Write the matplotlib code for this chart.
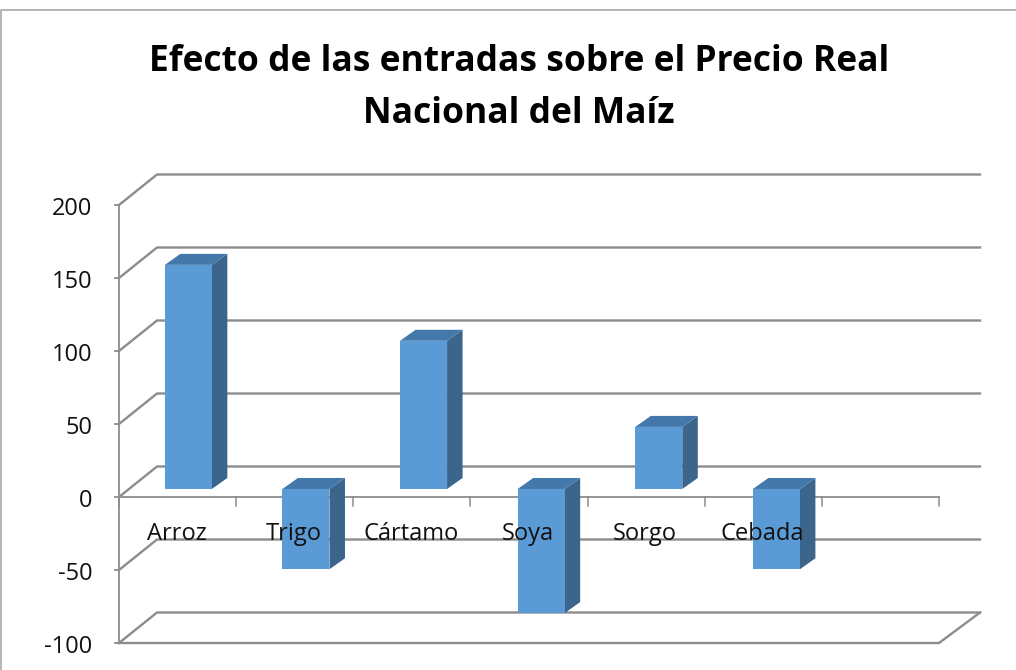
import matplotlib
matplotlib.use("Agg")
import matplotlib.pyplot as plt
from matplotlib.patches import Polygon, Rectangle

plt.rcParams['font.family'] = ['Open Sans', 'DejaVu Sans']

categories = ['Arroz', 'Trigo', 'Cártamo', 'Soya', 'Sorgo', 'Cebada']
values = [159, -55, 107, -85, 48, -55]
yticks = [-100, -50, 0, 50, 100, 150, 200]
title = 'Efecto de las entradas sobre el Precio Real\nNacional del Maíz'

W, H = 1016, 670
fig = plt.figure(figsize=(W / 100, H / 100), dpi=100)
fig.patch.set_facecolor('white')

# frame of the chart, cut by the picture edge at the bottom and right
fig.add_artist(plt.Line2D([0.5 / W, 0.5 / W, 1], [0, 1 - 10 / H, 1 - 10 / H],
                          color='#a8a8a8', lw=1.2))

# y=0 at 496px, y=-100 at 643px
ax = fig.add_axes([119 / W, (H - 643) / H, (939 - 119) / W, (643 - 205) / H])
ax.set_xlim(0, 7)
ax.set_ylim(-100, 200)
ax.axis('off')
ax.patch.set_alpha(0)

px_x = 7 / (939 - 119)
px_y = 300 / 438
dx = 38 * px_x    # depth offset of the floor/back wall in x
dy = 30.5 * px_y  # depth offset in y
xend = 980 * px_x - 119 * px_x
gray = '#8c8c8c'

# back wall gridlines and side wall diagonals
for t in yticks:
    ax.plot([0, dx, xend], [t, t + dy, t + dy], color=gray, lw=1.7, clip_on=False)
    ax.plot([-0.03, 0], [t, t], color=gray, lw=1.3, clip_on=False)
ax.plot([0, 0], [-100, 200], color=gray, lw=1.3, clip_on=False)

# floor front edge and right diagonal
ax.plot([0, 7, xend], [-100, -100, -100 + dy], color=gray, lw=1.7, clip_on=False)

# zero axis with ticks
ax.plot([0, 7], [0, 0], color=gray, lw=1.3, clip_on=False)
for i in range(8):
    ax.plot([i, i], [0, -6], color=gray, lw=1.1, clip_on=False)

# bars
bar_w = 47 * px_x
bdx = 15.5 * px_x
bdy = 11 * px_y
base = 5.5
for i, v in enumerate(values):
    x0 = (i + 0.5) * 1.004 - bar_w / 2 + 0.09
    top = v if v > 0 else base
    bot = base if v > 0 else v + base
    ax.add_patch(Polygon([(x0 + bar_w, bot), (x0 + bar_w + bdx, bot + bdy),
                          (x0 + bar_w + bdx, top + bdy), (x0 + bar_w, top)],
                         fc='#3c658c', ec='none', zorder=3))
    ax.add_patch(Polygon([(x0, top), (x0 + bdx, top + bdy),
                          (x0 + bar_w + bdx, top + bdy), (x0 + bar_w, top)],
                         fc='#4478ab', ec='none', zorder=3))
    ax.add_patch(Rectangle((x0, bot), bar_w, top - bot, fc='#5b9bd5', ec='none', zorder=4))
    ax.text(i + 0.5 - 0.01, -25, categories[i], ha='center', va='center',
            fontsize=17, color='#111111', zorder=5)

for t in yticks:
    ax.text(-0.225, t - 3, str(t), ha='right', va='center', fontsize=17,
            color='#111111', clip_on=False)

fig.text(519 / W, 1 - 88 / H, title, ha='center', va='center', fontsize=25.5,
         fontweight='bold', color='black', linespacing=1.56)

fig.savefig('out.png', dpi=100)
